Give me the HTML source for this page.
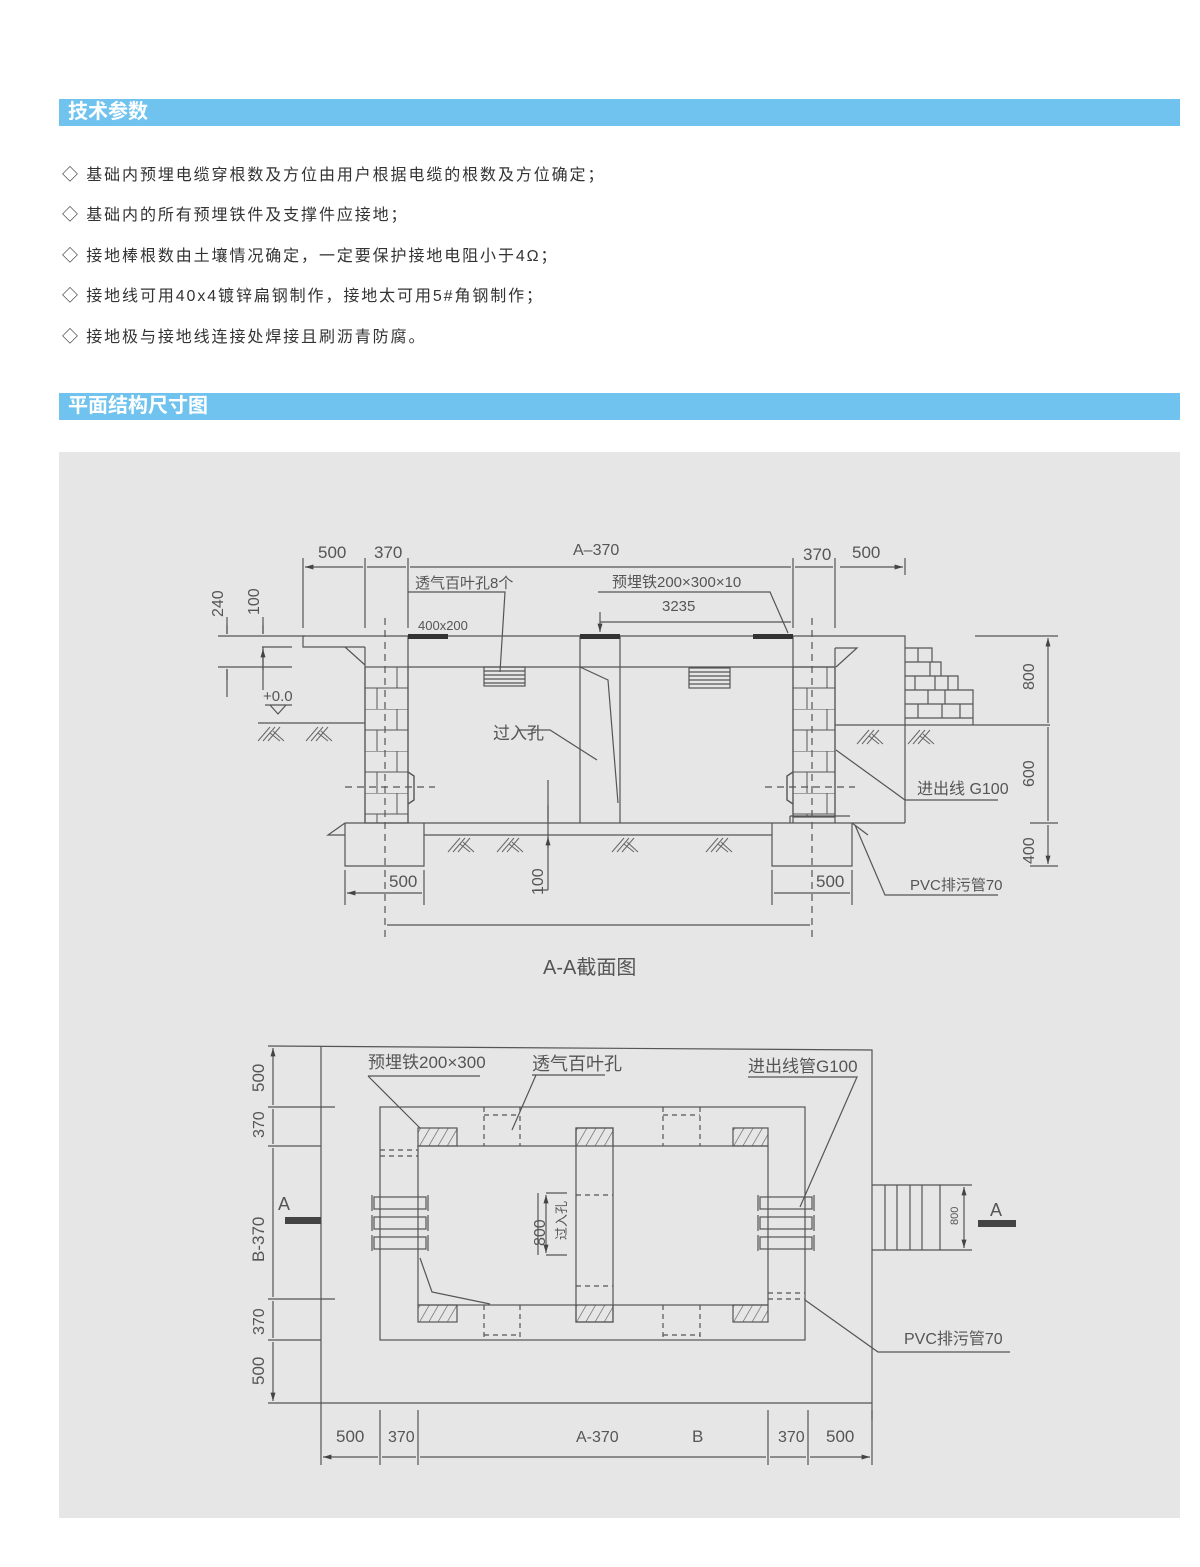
<!DOCTYPE html>
<html><head><meta charset="utf-8"><style>
body{margin:0;background:#fff;width:1200px;height:1567px;overflow:hidden;font-family:"Liberation Sans","Noto Sans CJK SC",sans-serif}
.bar{position:absolute;left:59px;width:1121px;height:27px;background:#70c3ee;color:#fff;font-weight:bold;font-size:20px;line-height:27px;padding-left:9px;box-sizing:border-box}
.li{position:absolute;left:62px;font-size:16px;letter-spacing:1.9px;color:#333}
svg{position:absolute;left:0;top:0}
</style></head><body>
<div class="bar" style="top:99px">技术参数</div>
<div class="li" style="top:161px">◇ 基础内预埋电缆穿根数及方位由用户根据电缆的根数及方位确定；</div>
<div class="li" style="top:201px">◇ 基础内的所有预埋铁件及支撑件应接地；</div>
<div class="li" style="top:242px">◇ 接地棒根数由土壤情况确定，一定要保护接地电阻小于4Ω；</div>
<div class="li" style="top:282px">◇ 接地线可用40x4镀锌扁钢制作，接地太可用5#角钢制作；</div>
<div class="li" style="top:323px">◇ 接地极与接地线连接处焊接且刷沥青防腐。</div>
<div class="bar" style="top:393px">平面结构尺寸图</div>
<div style="position:absolute;left:59px;top:452px;width:1121px;height:1066px;background:#e6e6e6"></div>
<svg width="1200" height="1567" viewBox="0 0 1200 1567" font-family="Liberation Sans,Noto Sans CJK SC,sans-serif" fill="none" stroke="#555" stroke-width="1.2">
<defs>
<marker id="a" viewBox="0 0 10 10" refX="10" refY="5" markerWidth="7" markerHeight="7" orient="auto-start-reverse"><path d="M0,2L10,5L0,8z" fill="#444" stroke="none"/></marker>
<pattern id="h" width="8" height="8" patternUnits="userSpaceOnUse" patternTransform="rotate(30)"><line x1="0" y1="0" x2="0" y2="8" stroke="#555" stroke-width="1.2"/></pattern>
<pattern id="br" x="0" y="667" width="43" height="42" patternUnits="userSpaceOnUse"><path d="M0,0H43M0,21H43M10,0V21M33,21V42" stroke="#555" stroke-width="1"/></pattern>
<g id="soil" stroke="#666" stroke-width="1"><path d="M0,14L12,0M5,14L17,0M10,14L22,0M12,6L22,14M15,4L26,14"/></g>
</defs>
<g>
<path d="M303,628V558M365,628V558M408,628V558M793,628V558M835,628V558M905,575V558"/>
<path d="M305,567H363M367,567H406M410,567H791M795,567H833M840,567H903" marker-start="url(#a)" marker-end="url(#a)"/>
<path d="M600,622H791M600,612V632" marker-end="url(#a)"/>
<path d="M598,592H770L788,633M408,592H505L500,672"/>
<path d="M303,636H905V823M303,636V647H365M408,636V823M580,636V823M620,636V823M408,667H835M793,636V823M835,648V823M835,648H857L836,667"/>
<path d="M345,647L365,665"/>
<rect x="365" y="667" width="43" height="156" fill="url(#br)"/>
<rect x="793" y="667" width="42" height="150" fill="url(#br)"/>
<path d="M365,647V823"/>
<rect x="408" y="634" width="40" height="5" fill="#333" stroke="none"/>
<rect x="580" y="634" width="40" height="5" fill="#333" stroke="none"/>
<rect x="753" y="634" width="40" height="5" fill="#333" stroke="none"/>
<path d="M580,667L608,680L618,803M518,730H550L597,760"/>
<rect x="484" y="667" width="41" height="19"/><path d="M484,671H525M484,675H525M484,679H525M484,683H525"/>
<rect x="689" y="668" width="41" height="20"/><path d="M689,672H730M689,676H730M689,680H730M689,684H730"/>
<path d="M345,823H905M424,835H772M345,823V866H424V823M772,823V866H852V823"/>
<path d="M345,823L328,835H345M852,823L868,835"/>
<path d="M790,816H850M790,816V823"/>
<path d="M408,772L414,776V800L408,804M793,772L787,776V800L793,804" stroke-width="1.4"/>
<path d="M345,787H435M765,787H855M385,618V940M812,618V940" stroke-dasharray="7,5"/>
<path d="M258,723H365M835,725H1050"/>
<use href="#soil" x="258" y="727"/><use href="#soil" x="306" y="727"/>
<use href="#soil" x="448" y="838"/><use href="#soil" x="497" y="838"/><use href="#soil" x="612" y="838"/><use href="#soil" x="706" y="838"/>
<use href="#soil" x="857" y="730"/><use href="#soil" x="908" y="730"/>
<path d="M905,648H932V662H941V676H958V690H973V725M905,662H932M905,676H941M905,690H958M905,704H973M905,718H973M918,648V662M930,662V676M915,676V690M928,690V704M945,690V704M918,704V718M942,704V718M960,704V718M948,676V690M935,676V690"/>
<path d="M975,636H1058M1030,823H1058M1030,866H1058"/>
<path d="M1048,638V723M1048,727V821M1048,825V864" marker-start="url(#a)" marker-end="url(#a)"/>
<path d="M836,750L905,800H998M855,825L885,895H998"/>
<path d="M218,636H305M218,667H292M262,647H292M227,617V634M227,669V697M263,617V634M263,667V658M263,647V690" />
<path d="M227,625V634M227,680V669M263,625V634M263,670V649" marker-end="url(#a)"/>
<path d="M265,705H292M270,705L278,714L286,705"/>
<path d="M345,870V905M424,870V905M772,870V905M852,870V905M548,780V890M535,890H548"/>
<path d="M347,893H422M774,893H850M387,925H810M548,805V821M548,848V837" marker-start="url(#a)" marker-end="url(#a)"/>
</g>
<g fill="#555" stroke="none" font-size="17">
<text x="318" y="558">500</text><text x="374" y="558">370</text><text x="573" y="555" font-size="16">A–370</text>
<text x="803" y="560">370</text><text x="852" y="558">500</text>
<text x="415" y="588" font-size="15">透气百叶孔8个</text>
<text x="612" y="587" font-size="15">预埋铁200×300×10</text>
<text x="662" y="611" font-size="15">3235</text>
<text x="418" y="630" font-size="13">400x200</text>
<text x="263" y="701" font-size="15">+0.0</text>
<text x="493" y="739" font-size="17">过入孔</text>
<text x="917" y="794" font-size="16">进出线  G100</text>
<text x="910" y="890" font-size="15">PVC排污管70</text>
<text x="389" y="887">500</text><text x="816" y="887">500</text>
<text x="543" y="974" font-size="20">A-A截面图</text>
<text transform="translate(223,617) rotate(-90)" font-size="16">240</text>
<text transform="translate(259,615) rotate(-90)" font-size="16">100</text>
<text transform="translate(543,895) rotate(-90)" font-size="16">100</text>
<text transform="translate(1034,690) rotate(-90)" font-size="16">800</text>
<text transform="translate(1034,787) rotate(-90)" font-size="16">600</text>
<text transform="translate(1034,864) rotate(-90)" font-size="16">400</text>
</g>
<g>
<path d="M268,1046L872,1050V1420M321,1046V1403M268,1403H872"/>
<rect x="380" y="1107" width="425" height="233"/>
<rect x="418" y="1146" width="350" height="159"/>
<rect x="576" y="1128" width="37" height="194" fill="#e6e6e6"/>
<rect x="576" y="1128" width="37" height="18" fill="url(#h)"/><rect x="576" y="1305" width="37" height="17" fill="url(#h)"/>
<rect x="418" y="1128" width="39" height="18" fill="url(#h)"/><rect x="733" y="1128" width="35" height="18" fill="url(#h)"/>
<rect x="418" y="1305" width="39" height="17" fill="url(#h)"/><rect x="733" y="1305" width="35" height="17" fill="url(#h)"/>
<path d="M484,1107V1146M520,1107V1146M484,1115H520M663,1107V1146M700,1107V1146M663,1115H700M484,1305V1340M520,1305V1340M484,1335H520M663,1305V1340M700,1305V1340M663,1335H700M380,1150H418M380,1156H418M768,1293H805M768,1299H805M576,1195H613M576,1286H613" stroke-dasharray="5,4"/>
<g id="pp"><rect x="374" y="1197" width="52" height="12"/><path d="M372,1195V1211M428,1195V1211"/></g>
<use href="#pp" y="20"/><use href="#pp" y="40"/>
<use href="#pp" x="386"/><use href="#pp" x="386" y="20"/><use href="#pp" x="386" y="40"/>
<path d="M872,1185H940V1250H872M885,1185V1250M897,1185V1250M910,1185V1250M922,1185V1250"/>
<path d="M940,1185H972M940,1250H972"/>
<path d="M964,1187V1248" marker-start="url(#a)" marker-end="url(#a)"/>
<rect x="285" y="1217" width="36" height="7" fill="#444" stroke="none"/>
<rect x="978" y="1220" width="38" height="7" fill="#444" stroke="none"/>
<path d="M368,1076H480M368,1076L420,1128M532,1075H605M536,1075L512,1130M748,1077H857L800,1207M420,1258L432,1292L490,1304M805,1300L878,1352H1010"/>
<path d="M546,1193H567M546,1255H567M538,1193V1255"/>
<path d="M546,1195V1253" marker-start="url(#a)" marker-end="url(#a)"/>
<path d="M268,1107H335M268,1146H321M268,1299H335M268,1340H321"/>
<path d="M273,1048V1105M273,1109V1144M273,1148V1297M273,1301V1338M273,1342V1401" marker-start="url(#a)" marker-end="url(#a)"/>
<path d="M321,1403V1465M380,1410V1465M418,1410V1465M768,1410V1465M808,1410V1465M872,1410V1465"/>
<path d="M323,1457H378M382,1457H416M420,1457H766M770,1457H806M810,1457H870" marker-start="url(#a)" marker-end="url(#a)"/>
</g>
<g fill="#555" stroke="none" font-size="17">
<text x="368" y="1068">预埋铁200×300</text>
<text x="532" y="1070" font-size="18">透气百叶孔</text>
<text x="748" y="1072">进出线管G100</text>
<text x="904" y="1344" font-size="16">PVC排污管70</text>
<text x="278" y="1210" font-size="18">A</text>
<text x="990" y="1216" font-size="18">A</text>
<text x="336" y="1442">500</text><text x="388" y="1442" font-size="16">370</text>
<text x="576" y="1442" font-size="16">A-370</text><text x="692" y="1442">B</text>
<text x="778" y="1442" font-size="16">370</text><text x="826" y="1442">500</text>
<text transform="translate(264,1092) rotate(-90)">500</text>
<text transform="translate(264,1138) rotate(-90)" font-size="16">370</text>
<text transform="translate(264,1262) rotate(-90)">B-370</text>
<text transform="translate(264,1335) rotate(-90)" font-size="16">370</text>
<text transform="translate(264,1385) rotate(-90)">500</text>
<text transform="translate(545,1246) rotate(-90)" font-size="16">800</text>
<text transform="translate(566,1240) rotate(-90)" font-size="13">过入孔</text>
<text transform="translate(958,1225) rotate(-90)" font-size="11">800</text>
</g>
</svg>
</body></html>
